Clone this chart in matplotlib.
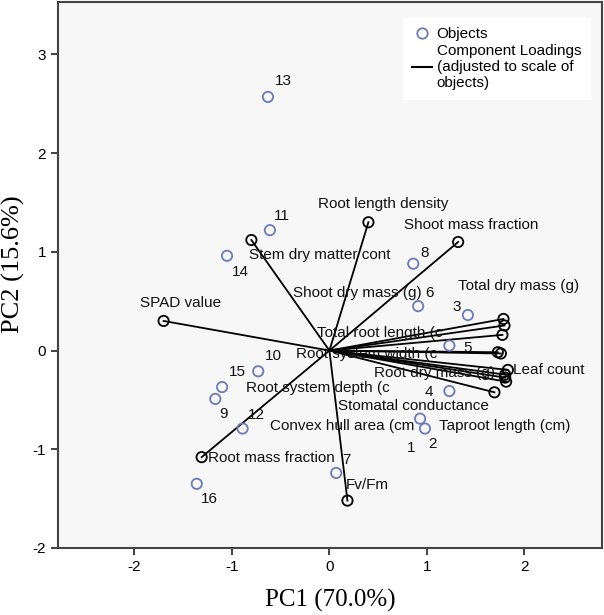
import numpy as np
import matplotlib
matplotlib.use("Agg")
import matplotlib.pyplot as plt
from matplotlib.lines import Line2D

plt.rcParams["font.family"] = ["Liberation Sans", "DejaVu Sans"]
plt.rcParams["axes.unicode_minus"] = False

# object scores (PC1, PC2)
obj_ids = ["1", "2", "3", "4", "5", "6", "7", "8", "9", "10", "11", "12", "13", "14", "15", "16"]
obj_pc1 = [0.93, 0.98, 1.42, 1.23, 1.23, 0.91, 0.07, 0.86, -1.17, -0.73, -0.61, -0.89, -0.63, -1.05, -1.10, -1.36]
obj_pc2 = [-0.69, -0.79, 0.36, -0.41, 0.05, 0.45, -1.24, 0.88, -0.49, -0.21, 1.22, -0.79, 2.57, 0.96, -0.37, -1.35]

# component loadings (scaled to objects)
var_names = ["Root length density", "Shoot mass fraction", "Stem dry matter cont", "SPAD value",
             "Root mass fraction", "Fv/Fm", "Total dry mass (g)", "Shoot dry mass (g)",
             "Total root length (c", "Root system width (c", "Convex hull area (cm", "Leaf count",
             "Root dry mass (g)", "Root system depth (c", "Stomatal conductance", "Taproot length (cm)"]
load_pc1 = [0.40, 1.32, -0.80, -1.70, -1.31, 0.185, 1.785, 1.795, 1.774, 1.727, 1.758, 1.830, 1.802, 1.802, 1.812, 1.692]
load_pc2 = [1.30, 1.10, 1.12, 0.30, -1.08, -1.52, 0.32, 0.254, 0.159, -0.017, -0.03, -0.196, -0.244, -0.274, -0.315, -0.423]

# where SPSS put the variable labels (left edge, middle)
lab_x = [-0.116, 0.766, -0.824, -1.942, -1.244, 0.171, 1.320, -0.372, -0.126, -0.342, -0.608, 1.884, 0.458, -0.854, 0.089, 1.125]
lab_y = [1.482, 1.269, 0.964, 0.477, -1.086, -1.360, 0.650, 0.579, 0.173, -0.030, -0.761, -0.193, -0.223, -0.376, -0.558, -0.761]

# pixel offsets of the object numbers
obj_off = [(-9, -29), (8, -15), (-11, 8), (-20, -1), (18, -2), (11, 13), (10, 13), (11, 11),
           (8, -15), (15, 15), (12, 14), (14, 14), (15, 16), (13, -16), (15, 15), (13, -15)]

fig = plt.figure(figsize=(6.04, 6.15), dpi=100)
ax = fig.add_axes([0.096, 0.109, 0.901, 0.888])
ax.set_facecolor("#f7f7f7")

obj_col = "#6b7bb3"
for x, y in zip(load_pc1, load_pc2):
    ax.plot([0, x], [0, y], color="black", lw=1.3, zorder=2)
ax.scatter(load_pc1, load_pc2, s=55, facecolors="none", edgecolors="black", linewidths=1.3, zorder=3)
ax.scatter(obj_pc1, obj_pc2, s=55, facecolors="none", edgecolors=obj_col, linewidths=1.3, zorder=4)

for name, x, y in zip(var_names, lab_x, lab_y):
    ax.text(x, y, name, fontsize=11, ha="left", va="center", color="#111111", zorder=5)

for lab, x, y, off in zip(obj_ids, obj_pc1, obj_pc2, obj_off):
    ax.annotate(lab, (x, y), xytext=off, textcoords="offset pixels",
                ha="center", va="center", fontsize=11, color="#111111", zorder=5)

ax.set_xlim(-2.783, 2.797)
ax.set_ylim(-2.0, 3.533)
ax.set_xticks([-2, -1, 0, 1, 2])
ax.set_yticks([-2, -1, 0, 1, 2, 3])
ax.tick_params(direction="out", length=5, width=1.3, color="#333333", labelsize=11)
for s in ax.spines.values():
    s.set_color("#444444")
    s.set_linewidth(1.5)

ax.set_xlabel("PC1 (70.0%)", family="Liberation Serif", fontsize=18, labelpad=11)
ax.set_ylabel("PC2 (15.6%)", family="Liberation Serif", fontsize=19)
ax.yaxis.set_label_coords(-0.060, 0.519)

handles = [Line2D([], [], marker="o", ls="none", mfc="none", mec=obj_col, mew=1.3, ms=7.5),
           Line2D([], [], color="black", lw=1.5)]
leg = ax.legend(handles, ["Objects", "Component Loadings\n(adjusted to scale of\nobjects)"],
                loc="upper right", bbox_to_anchor=(0.978, 0.971), borderaxespad=0, fontsize=11,
                frameon=True, fancybox=False, facecolor="white", edgecolor="white",
                handlelength=1.3, handletextpad=0.3, labelspacing=0.2, borderpad=0.6)
leg.get_frame().set_alpha(1)

fig.savefig("out.png", dpi=100)
